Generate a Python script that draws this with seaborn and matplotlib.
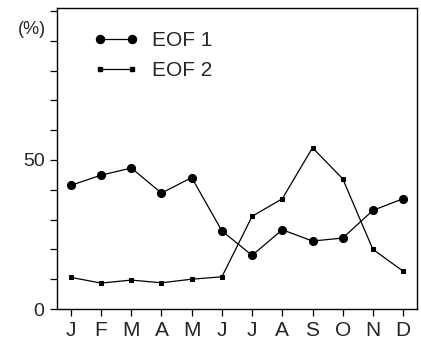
import matplotlib
matplotlib.use("Agg")
import matplotlib.pyplot as plt
import seaborn as sns
import pandas as pd
from matplotlib.lines import Line2D

months = ["J", "F", "M", "A", "M", "J", "J", "A", "S", "O", "N", "D"]
eof1 = [41.5, 44.9, 47.3, 38.9, 44.1, 26.2, 18.0, 26.6, 22.8, 23.8, 33.1, 37.0]
eof2 = [10.6, 8.7, 9.7, 8.8, 10.0, 10.8, 31.1, 37.0, 54.1, 43.7, 20.0, 12.7]
series_names = ["EOF 1", "EOF 2"]

sns.set_style("ticks")
plt.rcParams["font.family"] = ["Liberation Sans", "DejaVu Sans"]

pos = list(range(1, 13))
df = pd.DataFrame({
    "month": pos * 2,
    "value": eof1 + eof2,
    "series": [series_names[0]] * 12 + [series_names[1]] * 12,
})

fig = plt.figure(figsize=(4.21, 3.44), dpi=100)
ax = fig.add_axes([57 / 421, 35 / 344, 360 / 421, 301 / 344])

sns.lineplot(data=df, x="month", y="value", hue="series", style="series",
             palette=["black", "black"], markers={"EOF 1": "o", "EOF 2": "s"},
             dashes=False, linewidth=0.9, ax=ax, legend=False,
             markeredgecolor="black")
lines = ax.get_lines()
lines[0].set_markersize(5.8)
lines[1].set_markersize(3.4)

ax.set_xlim(0.54, 12.46)
ax.set_ylim(0, 101)
ax.set_xticks(pos)
ax.set_xticklabels(months, fontsize=15)
ax.set_yticks(range(0, 101, 10))
ax.set_yticklabels(["0", "", "", "", "", "50", "", "", "", "", ""], fontsize=14)
ax.tick_params(axis="both", direction="out", length=5, width=0.9, color="black", pad=4)
ax.set_xlabel("")
ax.set_ylabel("")
for s in ax.spines.values():
    s.set_visible(True)
    s.set_linewidth(1.0)
    s.set_color("black")

ax.text(-0.07, 0.93, "(%)", transform=ax.transAxes, fontsize=13,
        ha="center", va="center")

h1 = Line2D([], [], color="black", marker="o", markersize=5.8, linewidth=0.9)
h2 = Line2D([], [], color="black", marker="s", markersize=3.4, linewidth=0.9)
ax.legend([h1, h2], series_names, loc="upper left", bbox_to_anchor=(0.102, 0.922),
          frameon=False, numpoints=2, handlelength=2.14, handletextpad=0.66,
          fontsize=15, labelspacing=0.5, borderpad=0, borderaxespad=0)

fig.savefig("out.png", dpi=100)
